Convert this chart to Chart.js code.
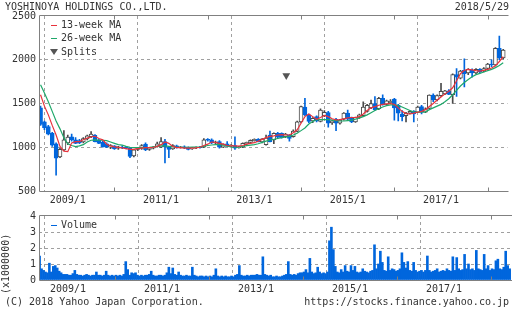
<!DOCTYPE html>
<html><head><meta charset="utf-8">
<script src="https://cdn.jsdelivr.net/npm/chart.js@4.4.0/dist/chart.umd.min.js"></script>
<style>
body{margin:0;width:512px;height:310px;background:#fff;overflow:hidden;position:relative;font-family:'DejaVu Sans Mono',monospace;font-size:10px;color:#333}
.t{position:absolute;white-space:pre;line-height:12px}
canvas{position:absolute;left:0}
#c1{top:0}
#c2{top:205px}
.dash{position:absolute;width:6px;height:1px}
.tri{position:absolute;width:0;height:0;border-left:4px solid transparent;border-right:4px solid transparent;border-top:6px solid #555}
</style></head><body>
<canvas id="c1" width="512" height="205"></canvas>
<canvas id="c2" width="512" height="95"></canvas>
<div class="t" style="left:5px;top:1px">YOSHINOYA HOLDINGS CO.,LTD.</div>
<div class="t" style="right:3px;top:1px">2018/5/29</div>
<div class="dash" style="left:51px;top:25px;background:#e8323c"></div>
<div class="t" style="left:61px;top:19px">13-week MA</div>
<div class="dash" style="left:51px;top:38px;background:#1fa86a"></div>
<div class="t" style="left:61px;top:32px">26-week MA</div>
<div class="tri" style="left:50px;top:49px"></div>
<div class="t" style="left:61px;top:46px">Splits</div>
<div class="dash" style="left:51px;top:225px;background:#0066dd"></div>
<div class="t" style="left:61px;top:219px">Volume</div>
<div class="t" style="left:-24px;top:258px;width:60px;text-align:center;transform:rotate(-90deg)">(x1000000)</div>
<div class="t" style="left:5px;top:296px">(C) 2018 Yahoo Japan Corporation.</div>
<div class="t" style="right:3px;top:296px">https://stocks.finance.yahoo.co.jp</div>
<script>
// ---- data (monthly candles from 2008/6 to 2018/5) ----
const startYear = 2008, startMonth = 6;
const opens = [1450,1290,1235,1160,1040,890,970,
 1050,1120,1085,1075,1060,1095,1120,1135,1080,1060,1040,1000,
 1015,990,1000,1000,995,900,975,990,1035,975,990,1010,
 1000,1065,1000,980,1015,1000,1005,995,980,995,1000,1000,
 1090,1085,1050,1065,1000,1040,1015,1020,995,1000,1040,1055,
 1075,1090,1060,1030,1140,1085,1160,1160,1120,1140,1120,1180,
 1290,1460,1370,1300,1350,1295,1360,1395,1280,1320,1275,1320,
 1390,1340,1290,1340,1360,1410,1450,1500,1440,1560,1490,1510,
 1550,1480,1380,1360,1390,1410,1400,1465,1400,1445,1595,1540,
 1590,1610,1645,1600,1830,1790,1880,1850,1880,1850,1890,1870,
 1900,1950,1940,2130,2020];
const highs = [1470,1300,1250,1170,1050,990,1190,
 1140,1150,1110,1090,1110,1140,1180,1145,1090,1070,1050,1030,
 1020,1010,1015,1010,1000,975,1000,1030,1050,1000,1010,1060,
 1110,1090,1010,1030,1025,1010,1015,1005,1000,1005,1010,1100,
 1100,1095,1070,1075,1040,1065,1030,1120,1010,1050,1060,1085,
 1095,1100,1100,1140,1185,1165,1170,1165,1160,1145,1200,1300,
 1470,1560,1380,1340,1360,1440,1420,1410,1310,1330,1320,1395,
 1425,1345,1345,1380,1520,1490,1540,1580,1570,1600,1540,1545,
 1560,1490,1420,1400,1420,1420,1470,1480,1450,1600,1610,1600,
 1730,1650,1660,1840,1900,1880,2010,1900,1895,1900,1900,1910,
 1960,2000,2140,2270,2120];
const lows = [1250,1200,1140,1010,680,880,960,
 1030,1070,1040,1040,1050,1085,1110,1060,1040,1000,995,985,
 975,975,985,980,880,890,960,975,960,965,980,1000,
 995,820,880,975,990,990,985,970,975,985,990,995,
 1070,1040,1040,990,995,1010,1005,975,990,995,1030,1050,
 1070,1060,1050,1025,1060,1040,1110,1105,1110,1070,1115,1175,
 1280,1360,1280,1280,1290,1290,1350,1230,1260,1190,1265,1310,
 1310,1280,1285,1330,1350,1400,1440,1420,1430,1480,1480,1500,
 1310,1300,1300,1290,1380,1290,1395,1380,1395,1440,1520,1530,
 1580,1600,1600,1500,1580,1780,1690,1830,1800,1840,1850,1860,
 1890,1920,1930,2000,2010];
const closes = [1260,1225,1150,1025,875,975,1085,
 1115,1085,1045,1050,1100,1130,1150,1065,1045,1005,1000,1020,
 980,1005,995,990,895,970,990,1020,970,990,1000,1040,
 1065,1005,975,1020,1000,1005,995,975,995,1000,995,1085,
 1080,1050,1060,1000,1035,1015,1025,990,1005,1045,1055,1080,
 1090,1065,1095,1105,1065,1160,1115,1110,1150,1100,1185,1290,
 1465,1370,1295,1330,1300,1425,1400,1275,1300,1275,1310,1390,
 1320,1290,1340,1370,1460,1480,1500,1430,1560,1485,1530,1525,
 1450,1390,1350,1390,1410,1380,1460,1400,1440,1595,1540,1590,
 1640,1645,1605,1830,1800,1870,1840,1890,1850,1890,1860,1900,
 1950,1940,2130,2020,2110];
const ma13 = [1600,1470,1370,1250,1140,1010,955,
 950,1050,1065,1065,1085,1105,1120,1125,1100,1085,1035,1015,
 1005,998,993,985,975,975,985,990,995,995,1000,1010,
 1030,1060,1045,1010,995,995,990,990,990,992,1000,1020,
 1035,1060,1055,1045,1035,1020,1015,1015,1012,1020,1035,1045,
 1052,1070,1090,1110,1125,1130,1140,1145,1140,1140,1165,1200,
 1275,1350,1380,1350,1320,1340,1365,1350,1325,1312,1315,1325,
 1335,1340,1340,1350,1380,1420,1450,1465,1480,1490,1495,1500,
 1490,1450,1410,1385,1380,1390,1400,1410,1430,1465,1500,1540,
 1575,1610,1640,1680,1760,1840,1880,1890,1885,1875,1870,1878,
 1890,1905,1930,1980,2035];
const ma26 = [1715,1620,1520,1410,1300,1210,1110,
 1040,1020,1007,1015,1030,1060,1080,1085,1082,1080,1075,1060,
 1045,1030,1025,1010,1000,995,995,995,995,998,1005,1010,
 1015,1015,1010,1005,1000,1000,1000,1000,1002,1003,1005,1010,
 1020,1026,1030,1033,1020,1012,1005,1000,1002,1010,1018,1025,
 1030,1040,1055,1070,1083,1090,1100,1110,1118,1125,1140,1160,
 1190,1220,1265,1295,1315,1315,1315,1315,1310,1305,1300,1300,
 1305,1310,1320,1335,1350,1370,1395,1420,1440,1460,1475,1485,
 1485,1475,1460,1440,1420,1405,1400,1400,1405,1430,1450,1470,
 1490,1520,1555,1600,1650,1700,1740,1775,1805,1830,1845,1860,
 1875,1890,1910,1935,1965];
// volume, two readings per month (x1,000,000 shares)
const volume = [
 1.5,0.7,0.6,0.5,0.45,1.05,0.5,0.85,0.9,0.75,0.55,0.45,0.35,0.35,
 0.35,0.3,0.3,0.4,0.6,0.35,0.3,0.3,0.25,0.3,0.35,0.3,0.25,0.3,0.3,0.5,0.3,0.3,0.25,0.3,0.55,0.3,0.25,0.3,
 0.25,0.3,0.25,0.3,0.25,0.35,1.15,0.65,0.3,0.45,0.4,0.45,0.3,0.25,0.3,0.25,0.3,0.3,0.35,0.55,0.3,0.25,0.25,0.3,
 0.3,0.25,0.3,0.45,0.8,0.4,0.75,0.35,0.3,0.5,0.3,0.25,0.25,0.3,0.25,0.25,0.8,0.3,0.25,0.2,0.25,0.25,0.2,0.25,
 0.2,0.25,0.2,0.3,0.7,0.25,0.2,0.25,0.2,0.25,0.2,0.2,0.25,0.2,0.3,0.35,0.9,0.3,0.25,0.25,0.3,0.25,0.3,0.3,
 0.3,0.35,0.3,0.3,1.45,0.35,0.3,0.25,0.3,0.2,0.2,0.25,0.2,0.2,0.25,0.3,0.35,1.15,0.35,0.3,0.35,0.3,0.4,0.45,
 0.45,0.5,0.65,0.45,1.35,0.5,0.4,0.45,0.8,0.5,0.4,0.45,0.4,0.5,2.45,3.3,1.9,0.85,0.5,0.45,0.65,0.5,0.9,0.55,
 0.5,0.9,0.6,0.85,0.5,0.45,0.5,0.7,0.55,0.5,0.45,0.55,0.6,2.2,0.7,1.0,1.8,1.1,0.6,0.55,1.45,0.6,0.7,0.65,
 0.55,0.6,0.7,1.7,1.1,0.75,1.15,0.6,0.55,1.1,0.6,0.5,0.55,0.6,0.5,0.6,1.5,0.6,0.5,0.55,0.6,0.7,0.5,0.55,
 0.6,0.55,0.7,0.6,0.55,1.45,0.6,1.4,0.7,0.6,0.65,1.6,0.7,1.0,0.65,0.7,0.6,1.85,0.7,0.65,0.6,1.6,0.7,0.9,
 0.6,0.7,0.65,1.2,1.3,0.7,0.65,0.8,1.8,0.9,0.7,0.6];
const splitMonths = ['2013/9'];
const splitMarkerPrice = [1820];
const yearTicks = ['2009/1','2010/1','2011/1','2012/1','2013/1','2014/1','2015/1','2016/1','2017/1','2018/1'];
const labeledTicks = ['2009/1','2011/1','2013/1','2015/1','2017/1'];

// ---- helpers ----
function monthIndex(label){const [y,m]=label.split('/').map(Number);return (y-startYear)*12+(m-startMonth);}
const BLUE='#0066dd', GRAY='#4a4a4a', RED='#e8323c', GREEN='#1fa86a', GRID='#a0a0a0', AXIS='#808080';
const tickVals = yearTicks.map(monthIndex);
const tickLabelOf = v => { const l = yearTicks[tickVals.indexOf(v)]; return labeledTicks.includes(l) ? l : ''; };
const isMajor = v => tickLabelOf(v) !== '';
const X_MIN = -0.4, X_MAX = 120.1;

Chart.defaults.font.family = "'DejaVu Sans Mono', monospace";
Chart.defaults.font.size = 10;
Chart.defaults.color = '#333';
Chart.defaults.animation = false;

const framePlugin = {
  id: 'frame',
  afterDraw(chart){
    const {ctx, chartArea:a, scales:{x}} = chart;
    ctx.save();
    ctx.strokeStyle = AXIS; ctx.lineWidth = 1;
    const L = Math.round(a.left)+0.5, T = Math.round(a.top)-0.5, B = Math.round(a.bottom)+0.5;
    ctx.beginPath();
    ctx.moveTo(L, T); ctx.lineTo(a.right+1, T);
    ctx.moveTo(L, T); ctx.lineTo(L, B);
    ctx.moveTo(L, B); ctx.lineTo(a.right+1, B);
    tickVals.forEach(v => {
      if (isMajor(v)) return;
      const px = Math.round(x.getPixelForValue(v))+0.5;
      ctx.moveTo(px, T); ctx.lineTo(px, T+4);
      ctx.moveTo(px, B); ctx.lineTo(px, B-4);
    });
    ctx.stroke();
    ctx.restore();
  }
};

function xScale(h){
  return {
    type:'linear', min:X_MIN, max:X_MAX, offset:false,
    afterBuildTicks: s => { s.ticks = tickVals.map(v => ({value:v})); },
    afterFit: s => { s.height = h; },
    ticks:{autoSkip:false, maxRotation:0, padding:3, callback: v => tickLabelOf(v)},
    grid:{drawTicks:false, color: c => (c.tick && isMajor(c.tick.value)) ? GRID : 'rgba(0,0,0,0)'},
    border:{display:false, dash:[3,3]}
  };
}

// ---- price chart ----
const up = opens.map((o,i) => closes[i] >= o);
new Chart(document.getElementById('c1'), {
  type:'bar',
  data:{datasets:[
    {type:'line', data: ma13.map((v,i)=>({x:i,y:v})), borderColor:RED, borderWidth:1.2, pointRadius:0, order:0},
    {type:'line', data: ma26.map((v,i)=>({x:i,y:v})), borderColor:GREEN, borderWidth:1.2, pointRadius:0, order:0},
    {type:'line', showLine:false, data: splitMonths.map((m,i)=>({x:monthIndex(m)+0.2,y:splitMarkerPrice[i]})),
      pointStyle:'triangle', rotation:180, pointRadius:4.5, backgroundColor:'#555', borderWidth:0, order:0},
    {type:'bar', data: opens.map((o,i)=>({x:i,y:[o,closes[i]]})), grouped:false, barThickness:4,
      backgroundColor: up.map(u=>u?'#ffffff':BLUE), borderColor: up.map(u=>u?GRAY:BLUE),
      borderWidth:1, borderSkipped:false, order:1},
    {type:'bar', data: lows.map((l,i)=>({x:i,y:[l,highs[i]]})), grouped:false, barThickness:1,
      backgroundColor: up.map(u=>u?GRAY:BLUE), borderWidth:0, order:2}
  ]},
  options:{
    responsive:false, animation:false,
    layout:{padding:{top:16,right:1,left:0,bottom:0}},
    plugins:{legend:{display:false}, tooltip:{enabled:false}},
    scales:{
      x: xScale(14),
      y:{min:500, max:2500, afterFit: s => { s.width = 39; },
        ticks:{stepSize:500, padding:3, callback: v => String(v)},
        grid:{drawTicks:false, color: c => (c.tick && (c.tick.value===500||c.tick.value===2500)) ? 'rgba(0,0,0,0)' : GRID},
        border:{display:false, dash:[3,3]}}
    }
  },
  plugins:[framePlugin]
});

// ---- volume chart ----
new Chart(document.getElementById('c2'), {
  type:'bar',
  data:{datasets:[
    {data: volume.map((v,j)=>({x:-0.25+0.5*j, y:v})), backgroundColor:BLUE, barPercentage:1, categoryPercentage:1, grouped:false}
  ]},
  options:{
    responsive:false, animation:false,
    layout:{padding:{top:11,right:1,left:0,bottom:0}},
    plugins:{legend:{display:false}, tooltip:{enabled:false}},
    scales:{
      x: xScale(20),
      y:{min:0, max:4, afterFit: s => { s.width = 39; },
        ticks:{stepSize:1, padding:3, callback: v => String(v)},
        grid:{drawTicks:false, color: c => (c.tick && (c.tick.value===0||c.tick.value===4)) ? 'rgba(0,0,0,0)' : GRID},
        border:{display:false, dash:[3,3]}}
    }
  },
  plugins:[framePlugin]
});
</script>
</body></html>
